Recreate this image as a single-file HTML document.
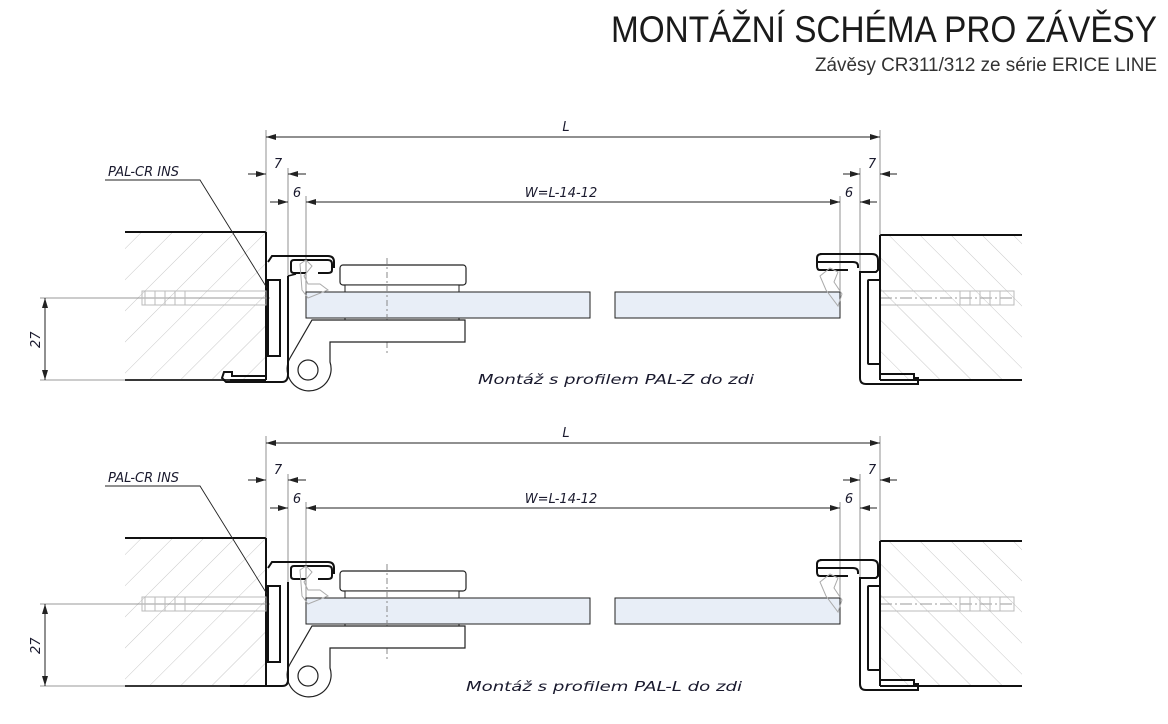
<!DOCTYPE html>
<html><head><meta charset="utf-8"><style>
html,body{margin:0;padding:0;background:#fff;}
svg{display:block;}
.t{font-family:"Liberation Sans",sans-serif;}
.i{font-family:"DejaVu Sans","Liberation Sans",sans-serif;font-style:italic;font-size:13px;fill:#1a1a2e;}
</style></head><body>
<svg width="1168" height="724" viewBox="0 0 1168 724" xmlns="http://www.w3.org/2000/svg">
<defs>
<pattern id="hl" patternUnits="userSpaceOnUse" width="22" height="22" patternTransform="rotate(45)">
<line x1="0" y1="0" x2="0" y2="22" stroke="#c8c8c8" stroke-width="1"/></pattern>
<pattern id="hr" patternUnits="userSpaceOnUse" width="22" height="22" patternTransform="rotate(-45)">
<line x1="0" y1="0" x2="0" y2="22" stroke="#c8c8c8" stroke-width="1"/></pattern>
<marker id="a" viewBox="0 0 10 6" refX="10" refY="3" markerWidth="10" markerHeight="6" orient="auto-start-reverse" markerUnits="userSpaceOnUse">
<path d="M0,0 L10,3 L0,6 z" fill="#222"/></marker>
<g id="common">
 <!-- walls -->
 <rect x="125" y="232" width="141" height="148" fill="url(#hl)"/>
 <line x1="125" y1="232" x2="266" y2="232" stroke="#111" stroke-width="2"/>
 <line x1="125" y1="380" x2="266" y2="380" stroke="#111" stroke-width="2"/>
 <line x1="266" y1="232" x2="266" y2="380" stroke="#111" stroke-width="2"/>
 <rect x="880" y="235" width="142" height="145" fill="url(#hr)"/>
 <line x1="880" y1="235" x2="1022" y2="235" stroke="#111" stroke-width="2"/>
 <line x1="880" y1="380" x2="1022" y2="380" stroke="#111" stroke-width="2"/>
 <line x1="880" y1="235" x2="880" y2="380" stroke="#111" stroke-width="2"/>
 <!-- extension lines -->
 <g stroke="#777" stroke-width="0.8">
  <line x1="266" y1="130" x2="266" y2="232"/><line x1="880" y1="130" x2="880" y2="235"/>
  <line x1="288" y1="168" x2="288" y2="300"/><line x1="306" y1="196" x2="306" y2="292"/>
  <line x1="860" y1="168" x2="860" y2="300"/><line x1="840" y1="196" x2="840" y2="292"/>
  <line x1="40" y1="298" x2="270" y2="298"/><line x1="40" y1="380" x2="230" y2="380"/>
  <line x1="880" y1="298" x2="1015" y2="298" stroke-dasharray="12 3 2 3"/>
 </g>
 <!-- dimensions -->
 <g stroke="#222" stroke-width="1" fill="none">
  <line x1="266" y1="137" x2="880" y2="137" marker-start="url(#a)" marker-end="url(#a)"/>
  <line x1="248" y1="174" x2="266" y2="174" marker-end="url(#a)"/>
  <line x1="306" y1="174" x2="288" y2="174" marker-end="url(#a)"/>
  <line x1="270" y1="202" x2="288" y2="202" marker-end="url(#a)"/>
  <line x1="306" y1="202" x2="840" y2="202" marker-start="url(#a)" marker-end="url(#a)"/>
  <line x1="877" y1="202" x2="860" y2="202" marker-end="url(#a)"/>
  <line x1="843" y1="174" x2="860" y2="174" marker-end="url(#a)"/>
  <line x1="897" y1="174" x2="880" y2="174" marker-end="url(#a)"/>
  <line x1="45" y1="298" x2="45" y2="380" marker-start="url(#a)" marker-end="url(#a)"/>
  <polyline points="105,180 200,180 267,288" stroke-width="0.9"/>
 </g>
 <text x="566" y="131" class="i" text-anchor="middle">L</text>
 <text x="278" y="168" class="i" text-anchor="middle">7</text>
 <text x="297" y="197" class="i" text-anchor="middle">6</text>
 <text x="561" y="197" class="i" text-anchor="middle">W=L-14-12</text>
 <text x="849" y="197" class="i" text-anchor="middle">6</text>
 <text x="872" y="168" class="i" text-anchor="middle">7</text>
 <text x="108" y="176" class="i">PAL-CR INS</text>
 <text x="0" y="0" class="i" transform="translate(40,348) rotate(-90)">27</text>
 <!-- anchors -->
 <g stroke="#bbb" stroke-width="1" fill="none">
  <rect x="142" y="291" width="124" height="14"/>
  <path d="M145,291 v14 M155,291 v14 M165,291 v14 M175,291 v14 M185,291 v14"/>
  <rect x="880" y="291" width="134" height="14"/>
  <path d="M960,291 v14 M970,291 v14 M980,291 v14 M990,291 v14 M1000,291 v14"/>
 </g>
 <!-- glass -->
 <rect x="306" y="292" width="284" height="26" fill="#e8eef7" stroke="#222" stroke-width="1"/>
 <rect x="615" y="292" width="225" height="26" fill="#e8eef7" stroke="#222" stroke-width="1"/>
 <!-- clamp plates -->
 <rect x="340" y="265" width="126" height="20" rx="3" fill="#fff" stroke="#222" stroke-width="1.2"/>
 <rect x="345" y="285" width="114" height="7" fill="#fff" stroke="#222" stroke-width="1"/>
 <rect x="345" y="318" width="114" height="4" fill="#fff" stroke="#222" stroke-width="1"/>
 <line x1="387" y1="258" x2="387" y2="355" stroke="#888" stroke-dasharray="6 3 2 3"/>
 <!-- hinge lower leaf -->
 <path d="M312,320 L465,320 L465,342 L330,342 L330,362 A22,22 0 1 1 290,358 Z" fill="#fff" stroke="#222" stroke-width="1.2"/>
 <circle cx="308" cy="370" r="10" fill="none" stroke="#222" stroke-width="1.2"/>
 <!-- left C channel -->
 <path d="M294,260 L328,260 Q332,260 332,264 L332,270 Q332,273 328,273 L318,273 M306,273 L294,273 Q291,273 291,270 L291,263 Q291,260 294,260" fill="none" stroke="#111" stroke-width="2"/>
 <path d="M300,264 l6,-4 l6,6 l-8,10 l4,8 l12,0 l8,6 l-20,8 l-6,-8 z" fill="none" stroke="#aaa" stroke-width="1"/>
 <!-- right C channel -->
 <path d="M820,254 L872,254 Q878,254 878,260 M818,262 L853,262 Q858,262 858,266 L858,268 M848,270 L820,270 Q817,270 817,266 L817,258 Q817,254 822,254" fill="none" stroke="#111" stroke-width="2"/>
 <path d="M820,276 l10,-8 l8,4 l-4,10 l8,12 l-4,12 l-12,-16 z" fill="none" stroke="#aaa" stroke-width="1"/>
 <!-- right profile -->
 <path d="M878,260 L878,270 L876,272 L860,272 L860,378 Q860,384 866,384 L918,384 L918,378 L914,378 L914,374 L880,374" fill="none" stroke="#111" stroke-width="2"/>
 <rect x="868" y="280" width="12" height="84" rx="1" fill="none" stroke="#111" stroke-width="2"/>
</g>
</defs>

<text x="1157" y="42" class="t" text-anchor="end" font-size="37" fill="#1a1a1a" font-weight="300" textLength="546" lengthAdjust="spacingAndGlyphs">MONTÁŽNÍ SCHÉMA PRO ZÁVĚSY</text>
<text x="1157" y="71" class="t" text-anchor="end" font-size="19" fill="#333" textLength="342" lengthAdjust="spacingAndGlyphs">Závěsy CR311/312 ze série ERICE LINE</text>

<!-- top drawing -->
<use href="#common"/>
<path d="M268,262 L272,256 L328,256 Q334,256 334,262 L334,268 M288,276 L288,374 Q288,382 282,382 L226,382 L222,378 L224,372 L232,372 L232,376 L266,376" fill="none" stroke="#111" stroke-width="2"/>
<path d="M288,276 L296,274" stroke="#111" stroke-width="1.5"/>
<rect x="268" y="280" width="12" height="76" fill="none" stroke="#111" stroke-width="2"/>
<text x="478" y="384" class="i" font-size="15" textLength="276" lengthAdjust="spacingAndGlyphs">Montáž s profilem PAL-Z do zdi</text>

<!-- bottom drawing -->
<g transform="translate(0,306)">
<use href="#common"/>
<path d="M268,262 L272,256 L328,256 Q334,256 334,262 L334,268 M288,276 L288,374 Q288,380 282,380 L266,380" fill="none" stroke="#111" stroke-width="2"/>
<rect x="268" y="280" width="12" height="76" fill="none" stroke="#111" stroke-width="2"/>
</g>
<rect x="125" y="687" width="10" height="2" fill="#fff"/>
<text x="466" y="691" class="i" font-size="15" textLength="276" lengthAdjust="spacingAndGlyphs">Montáž s profilem PAL-L do zdi</text>
</svg>
</body></html>
